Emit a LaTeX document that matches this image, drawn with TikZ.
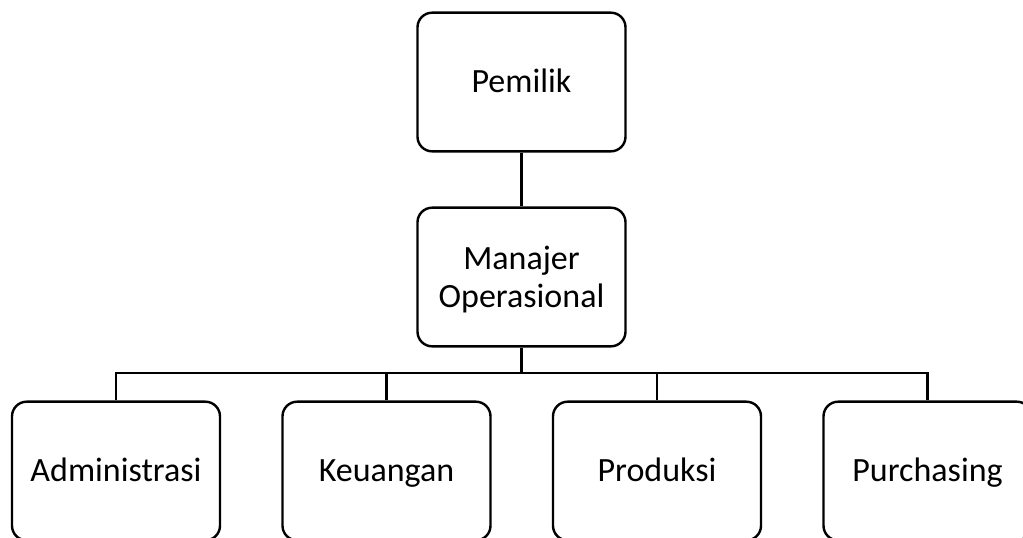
\documentclass[tikz,border=0pt]{standalone}
\usepackage{fontspec}
\setmainfont{Carlito}
\begin{document}
\begin{tikzpicture}[x=0.75pt,y=-0.75pt,
  unit/.style={draw=black, line width=1.8pt, rounded corners=11pt,
    minimum width=156pt, minimum height=104pt, inner sep=0pt,
    align=center, font=\fontsize{25.5}{28.5}\selectfont},
  oneline/.style={unit, text height=20pt, text depth=5pt},
  link/.style={line width=1.8pt}]
\useasboundingbox (0,0) rectangle (1023,537);
\clip (0,0) rectangle (1023,537);
% top level
\node[oneline] (own) at (521.5,82) {Pemilik};
\node[unit] (mgr) at (521.5,277)
  {\rule{0pt}{22pt}Manajer\\Operasional\rule[-5.5pt]{0pt}{5.5pt}};
% departments
\node[oneline] (adm) at (116,471) {Administrasi};
\node[oneline] (fin) at (386.5,471) {Keuangan};
\node[oneline] (prd) at (657,471) {Produksi};
\node[oneline] (pur) at (927.5,471) {Purchasing};
% branching point under the manager
\coordinate (bus) at (521.5,373);
\draw[link] (own.south) -- (mgr.north);
\draw[link] (mgr.south) -- (bus);
\draw[link] (adm.north) |- (bus) -| (pur.north);
\draw[link] (fin.north) -- (fin.north |- bus);
\draw[link] (prd.north) -- (prd.north |- bus);
\end{tikzpicture}
\end{document}
